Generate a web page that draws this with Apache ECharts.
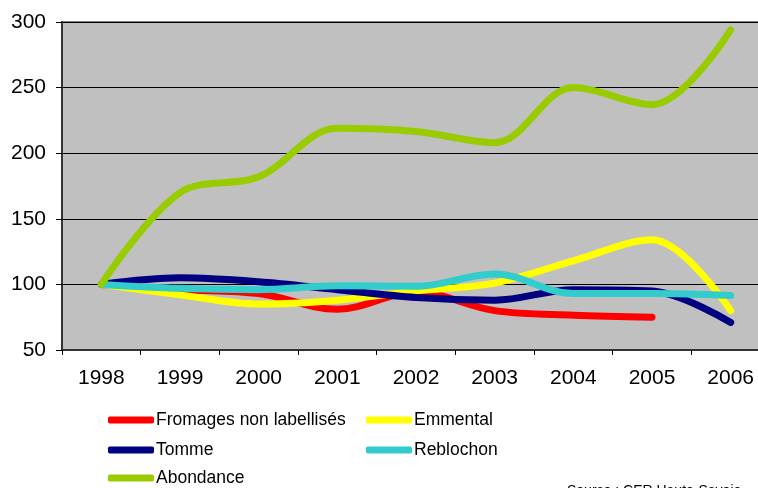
<!DOCTYPE html>
<html>
<head>
<meta charset="utf-8">
<script src="https://cdn.jsdelivr.net/npm/echarts@6/dist/echarts.min.js"></script>
<style>
html,body{margin:0;padding:0;background:#fff;overflow:hidden;}
#c{width:770px;height:488px;}
</style>
</head>
<body>
<div id="c"></div>
<script>
var years = ['1998','1999','2000','2001','2002','2003','2004','2005','2006'];
var fromages = [100, 96, 93, 81, 94, 80, 76.5, 75, null];
var emmental = [100, 92, 85, 88, 95, 101, 118, 134, 80];
var tomme = [100, 105, 102, 96, 90, 88, 96, 95, 71];
var reblochon = [100, 97, 96, 99, 98.5, 108, 93, 93, 91.5];
var abondance = [100, 170, 182, 219, 216.5, 208, 250, 237, 294];
var seriesNames = ['Fromages non labellisés', 'Emmental', 'Tomme', 'Reblochon', 'Abondance'];
var seriesData = [fromages, emmental, tomme, reblochon, abondance];
var colors = ['#ff0000', '#ffff00', '#000080', '#33cccc', '#99cc00'];

var chart = echarts.init(document.getElementById('c'), null, {renderer: 'canvas'});
var font = 'Liberation Sans, Arial, sans-serif';

var legendPos = [
  {left: 108, top: 411},
  {left: 366, top: 411},
  {left: 108, top: 441},
  {left: 366, top: 441},
  {left: 108, top: 469}
];

var legends = seriesNames.map(function (n, i) {
  return {
    data: [n],
    left: legendPos[i].left,
    top: legendPos[i].top,
    padding: 0,
    orient: 'horizontal',
    icon: 'roundRect',
    itemWidth: 46,
    itemHeight: 7,
    itemGap: 0,
    selectedMode: false,
    textStyle: {color: '#000', fontSize: 17.5, fontFamily: font, padding: [0, 0, 0, -3]}
  };
});

var option = {
  animation: false,
  backgroundColor: '#ffffff',
  color: colors,
  legend: legends,
  grid: {
    left: 62, top: 22, right: 0, bottom: 138,
    show: true, backgroundColor: '#c0c0c0', borderColor: '#808080', borderWidth: 2
  },
  xAxis: {
    type: 'category',
    data: years,
    boundaryGap: true,
    axisLine: {show: true, lineStyle: {color: '#333', width: 2}},
    axisTick: {show: true, length: 5, lineStyle: {color: '#000', width: 1}},
    axisLabel: {color: '#000', fontSize: 21, fontFamily: font, margin: 18}
  },
  yAxis: {
    type: 'value',
    min: 50, max: 300, interval: 50,
    axisLine: {show: true, lineStyle: {color: '#333', width: 2}},
    axisTick: {show: true, length: 6, lineStyle: {color: '#000', width: 1}},
    axisLabel: {color: '#000', fontSize: 21, fontFamily: font, margin: 16},
    splitLine: {show: true, lineStyle: {color: '#000', width: 1}}
  },
  series: seriesNames.map(function (n, i) {
    return {
      name: n,
      type: 'line',
      data: seriesData[i],
      smooth: 0.35,
      symbol: 'none',
      connectNulls: false,
      lineStyle: {width: 7, color: colors[i], cap: 'round', join: 'round'},
      itemStyle: {color: colors[i]}
    };
  }),
  graphic: [{
    type: 'text',
    left: 567, top: 484,
    style: {text: 'Source : CER Haute-Savoie', fill: '#000', font: '14px Liberation Sans, Arial, sans-serif'}
  }]
};
chart.setOption(option);
</script>
</body>
</html>
